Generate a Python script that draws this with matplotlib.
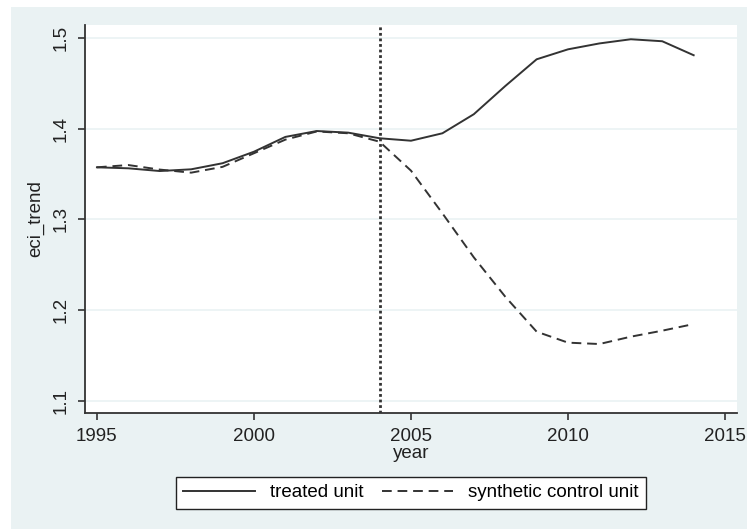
import matplotlib
matplotlib.use("Agg")
import matplotlib.pyplot as plt
from matplotlib.patches import Rectangle

years = list(range(1995, 2015))
treated = [1.3575, 1.3564, 1.3534, 1.3553, 1.3620, 1.3747, 1.3910, 1.3975, 1.3957, 1.3895,
           1.3868, 1.3950, 1.4160, 1.4470, 1.4765, 1.4875, 1.4940, 1.4986, 1.4964, 1.4810]
synthetic = [1.3575, 1.3600, 1.3550, 1.3516, 1.3580, 1.3730, 1.3880, 1.3970, 1.3950, 1.3857,
             1.3538, 1.3068, 1.2583, 1.2150, 1.1764, 1.1643, 1.1628, 1.1709, 1.1775, 1.1848]
treat_year = 2004

plt.rcParams["font.family"] = ["Liberation Sans", "DejaVu Sans"]
line_col = "#333333"
bg_col = "#eaf2f3"

fig = plt.figure(figsize=(7.47, 5.29), dpi=100)
fig.patches.append(Rectangle((11 / 747, 0), 1, 522 / 529, transform=fig.transFigure,
                             facecolor=bg_col, edgecolor="none", zorder=-10))

ax = fig.add_axes([85 / 747, 116 / 529, 652 / 747, 388 / 529])
ax.set_facecolor("white")

ax.plot(years, treated, color=line_col, lw=1.4, linestyle="-", label="treated unit")
ax.plot(years, synthetic, color=line_col, lw=1.4, linestyle=(0, (5, 3)),
        label="synthetic control unit")
ax.axvline(treat_year, color=line_col, lw=2.0, linestyle=(0, (1, 1)))

ax.set_xlim(1994.62, 2015.38)
ax.set_ylim(1.0868, 1.5143)
ax.set_xticks([1995, 2000, 2005, 2010, 2015])
ax.set_yticks([1.1, 1.2, 1.3, 1.4, 1.5])
ax.set_yticklabels(["1.1", "1.2", "1.3", "1.4", "1.5"], rotation=90, va="center")
ax.yaxis.grid(True, color=bg_col, lw=1.2)
ax.set_axisbelow(True)

for side in ["top", "right"]:
    ax.spines[side].set_visible(False)
for side in ["left", "bottom"]:
    ax.spines[side].set_color(line_col)
    ax.spines[side].set_linewidth(1.3)
ax.tick_params(direction="out", length=5, width=1.2, color=line_col,
               labelsize=13.5, labelcolor="#222222", pad=6)

ax.set_xlabel("year", fontsize=13.5, color="#222222", labelpad=0)
ax.set_ylabel("eci_trend", fontsize=13.5, color="#222222", labelpad=6)

leg = ax.legend(loc="upper center", bbox_to_anchor=(0.5, -0.15), ncol=2, frameon=True,
                fancybox=False, edgecolor="#222222", facecolor="white", fontsize=13.5,
                handlelength=3.8, columnspacing=1.0, borderpad=0.4, handletextpad=0.8,
                borderaxespad=0.3)
leg.get_frame().set_linewidth(1.0)
leg.get_frame().set_alpha(1)

plt.savefig("out.png", dpi=100)
